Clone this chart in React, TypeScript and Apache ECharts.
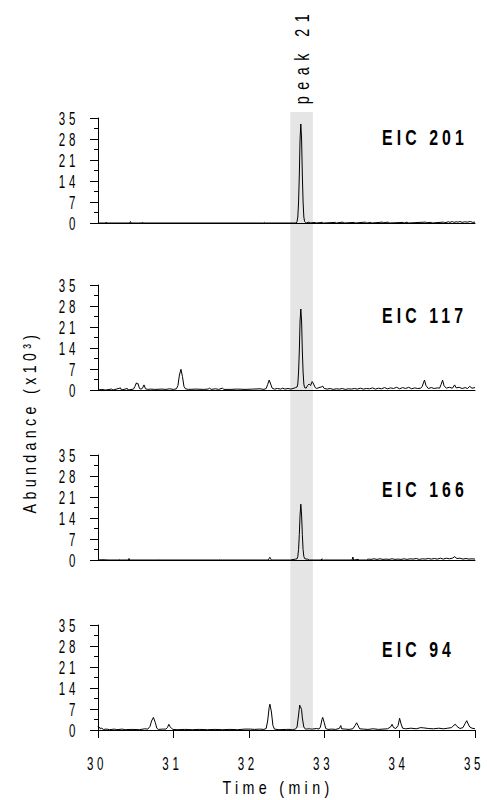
import React, { useEffect, useRef } from "react";
import * as echarts from "echarts";

const timeMin = 30;
const timeMax = 35;
const timeStep = 1;
const abundanceMax = 35;
const abundanceStep = 7;
const xTicks = [30, 31, 32, 33, 34, 35];
const yTicks = [0, 7, 14, 21, 28, 35];
const peakWindow = [32.55, 32.85];
const peakLabel = "peak 21";
const panelLabels = ["EIC 201", "EIC 117", "EIC 166", "EIC 94"];
const yTitle = "Abundance (x10³)";
const xTitle = "Time (min)";

const eic201: [number, number][] = [
  [30.0, 0], [30.1, 0], [30.11, 0.3], [30.12, 0], [30.42, 0], [30.43, 0.5], [30.44, 0],
  [30.58, 0], [30.59, 0.3], [30.6, 0], [32.2, 0], [32.21, 0.2], [32.22, 0], [32.63, 0],
  [32.64, 0.5], [32.65, 2], [32.66, 7], [32.67, 16], [32.68, 28], [32.69, 33], [32.7, 28],
  [32.71, 16], [32.72, 7], [32.73, 2], [32.74, 0.5], [32.75, 0.2], [32.76, 0],
  [32.8, 0.3], [32.81, 0], [32.88, 0.2], [32.89, 0], [32.98, 0.2], [32.99, 0],
  [33.15, 0.2], [33.16, 0], [33.25, 0.3], [33.26, 0], [33.4, 0.2], [33.41, 0],
  [33.55, 0.3], [33.56, 0], [33.62, 0.2], [33.63, 0], [33.78, 0.3], [33.79, 0.1],
  [33.85, 0.3], [33.86, 0], [34.05, 0.2], [34.06, 0], [34.1, 0.3], [34.11, 0],
  [34.35, 0.3], [34.36, 0.1], [34.42, 0.2], [34.43, 0], [34.58, 0.3], [34.6, 0.1],
  [34.65, 0.4], [34.67, 0.2], [34.7, 0.5], [34.72, 0.2], [34.75, 0.4], [34.78, 0.3],
  [34.8, 0.5], [34.83, 0.2], [34.86, 0.4], [34.9, 0.3], [34.94, 0.5], [34.97, 0.2], [35.0, 0.3],
];

const eic117: [number, number][] = [
  [30.0, 0], [30.05, 0.2], [30.1, 0], [30.18, 0.3], [30.2, 0], [30.3, 0.7], [30.31, 0],
  [30.39, 0.5], [30.4, 0], [30.47, 0.3], [30.49, 1.2], [30.51, 2.4], [30.52, 2], [30.53, 2.2],
  [30.55, 0.5], [30.57, 0.3], [30.59, 0.6], [30.61, 1.7], [30.63, 0.4], [30.66, 0.2],
  [30.7, 0.3], [30.75, 0.2], [30.85, 0.3], [30.9, 0.2], [30.95, 0.4], [31.0, 0.2],
  [31.04, 0.4], [31.06, 1.5], [31.08, 5], [31.1, 6.9], [31.12, 4.5], [31.14, 1.2],
  [31.16, 0.4], [31.2, 0.2], [31.3, 0.3], [31.4, 0.2], [31.46, 0.3], [31.48, 0.6],
  [31.5, 0.2], [31.56, 0.4], [31.6, 0.2], [31.65, 0.6], [31.67, 0.2], [31.75, 0.2],
  [31.85, 0.3], [31.95, 0.2], [32.05, 0.3], [32.15, 0.4], [32.2, 0.2], [32.23, 0.5],
  [32.25, 1.8], [32.27, 3.3], [32.29, 2], [32.31, 0.6], [32.34, 0.3], [32.38, 0.5],
  [32.42, 0.3], [32.45, 0.6], [32.48, 0.3], [32.52, 0.5], [32.56, 0.3], [32.6, 0.6],
  [32.62, 0.8], [32.64, 1], [32.65, 2], [32.66, 6], [32.67, 13], [32.68, 23], [32.69, 27],
  [32.7, 23], [32.71, 13], [32.72, 6], [32.73, 2], [32.74, 0.8], [32.76, 0.6], [32.78, 1.5],
  [32.8, 2], [32.82, 1.5], [32.84, 2.8], [32.86, 2], [32.88, 0.8], [32.9, 0.5], [32.93, 0.8],
  [32.96, 1], [32.98, 1.3], [33.0, 0.5], [33.04, 0.3], [33.08, 0.5], [33.12, 0.2],
  [33.16, 0.4], [33.2, 0.3], [33.24, 0.5], [33.28, 0.2], [33.32, 0.4], [33.36, 0.3],
  [33.4, 0.5], [33.44, 0.3], [33.48, 0.6], [33.52, 0.3], [33.56, 0.5], [33.6, 0.4],
  [33.64, 0.7], [33.68, 0.3], [33.72, 0.6], [33.76, 0.4], [33.8, 0.8], [33.84, 0.4],
  [33.88, 0.7], [33.92, 0.5], [33.96, 0.9], [34.0, 0.4], [34.04, 0.8], [34.08, 0.5],
  [34.12, 0.9], [34.16, 0.4], [34.2, 0.7], [34.24, 0.5], [34.28, 0.6], [34.3, 1.2],
  [34.33, 3.3], [34.35, 1.5], [34.38, 0.5], [34.42, 0.8], [34.46, 0.5], [34.5, 0.7],
  [34.53, 0.6], [34.55, 1.8], [34.57, 3.3], [34.59, 1.4], [34.62, 0.6], [34.66, 0.9],
  [34.7, 0.6], [34.73, 1.7], [34.75, 0.7], [34.79, 0.9], [34.83, 0.5], [34.87, 0.8],
  [34.9, 0.5], [34.93, 1.2], [34.96, 0.6], [35.0, 0.8],
];

const eic166: [number, number][] = [
  [30.0, 0], [30.05, 0.1], [30.15, 0], [30.28, 0], [30.29, 0.2], [30.3, 0], [30.4, 0],
  [30.41, 0.5], [30.42, 0], [30.8, 0], [30.81, 0.1], [30.82, 0], [31.6, 0], [31.61, 0.1],
  [31.62, 0], [32.2, 0], [32.26, 0], [32.27, 0.5], [32.28, 0.9], [32.29, 0.4], [32.3, 0],
  [32.55, 0], [32.6, 0.2], [32.62, 0.3], [32.64, 0.4], [32.65, 1.2], [32.66, 3.5],
  [32.67, 8.5], [32.68, 15], [32.69, 18.6], [32.7, 15], [32.71, 8.5], [32.72, 3.5],
  [32.73, 1.2], [32.74, 0.5], [32.76, 0.3], [32.78, 0.3], [32.8, 0], [32.96, 0],
  [32.97, 0.4], [32.98, 0.2], [32.99, 0], [33.37, 0], [33.38, 1], [33.39, 0], [33.45, 0.2],
  [33.47, 0], [33.56, 0], [33.58, 0.3], [33.62, 0.2], [33.66, 0.4], [33.7, 0.2],
  [33.74, 0.4], [33.78, 0.2], [33.82, 0.3], [33.86, 0.2], [33.9, 0.4], [33.94, 0.2],
  [33.98, 0.3], [34.02, 0.2], [34.06, 0.4], [34.1, 0.2], [34.14, 0.4], [34.18, 0.3],
  [34.22, 0.5], [34.26, 0.2], [34.3, 0.4], [34.34, 0.3], [34.38, 0.5], [34.42, 0.3],
  [34.46, 0.5], [34.5, 0.3], [34.54, 0.6], [34.58, 0.3], [34.62, 0.6], [34.66, 0.4],
  [34.7, 0.6], [34.73, 1.1], [34.76, 0.5], [34.8, 0.6], [34.84, 0.3], [34.88, 0.5],
  [34.92, 0.3], [34.96, 0.4], [35.0, 0.3],
];

const eic94: [number, number][] = [
  [30.0, 1.3], [30.01, 0.6], [30.02, 1], [30.03, 0.4], [30.05, 0.6], [30.07, 0.2],
  [30.12, 0.3], [30.15, 0.1], [30.22, 0.3], [30.25, 0.1], [30.32, 0.3], [30.36, 0.1],
  [30.45, 0.2], [30.55, 0.1], [30.62, 0.4], [30.66, 0.3], [30.69, 1.2], [30.71, 3],
  [30.735, 4.2], [30.76, 2.5], [30.78, 0.6], [30.8, 0.2], [30.86, 0.3], [30.9, 0.3],
  [30.92, 0.8], [30.94, 1.9], [30.95, 1.2], [30.97, 0.8], [30.99, 0.2], [31.05, 0.1],
  [31.15, 0.2], [31.25, 0.1], [31.35, 0.2], [31.45, 0.1], [31.55, 0.2], [31.65, 0.1],
  [31.75, 0.2], [31.85, 0.1], [31.95, 0.3], [32.02, 0.3], [32.08, 0.2], [32.14, 0.3],
  [32.2, 0.2], [32.23, 0.5], [32.25, 3], [32.27, 7.5], [32.28, 8.6], [32.3, 6],
  [32.32, 1.5], [32.34, 0.3], [32.4, 0.1], [32.5, 0.2], [32.58, 0.2], [32.62, 0.3],
  [32.64, 1], [32.66, 5], [32.675, 8.3], [32.685, 7.8], [32.7, 6.8], [32.71, 4],
  [32.73, 1], [32.75, 0.3], [32.8, 0.4], [32.84, 0.3], [32.9, 0.5], [32.93, 0.3],
  [32.95, 1], [32.97, 3.5], [32.98, 4.2], [33.0, 2.5], [33.02, 0.5], [33.05, 0.2],
  [33.1, 0.3], [33.15, 0.2], [33.2, 0.5], [33.22, 1.5], [33.23, 0.4], [33.28, 0.3],
  [33.33, 0.2], [33.38, 0.4], [33.41, 1.5], [33.43, 2.4], [33.45, 1.4], [33.47, 0.4],
  [33.52, 0.3], [33.58, 0.2], [33.65, 0.4], [33.72, 0.2], [33.78, 0.3], [33.84, 0.4],
  [33.88, 1], [33.9, 1.9], [33.92, 0.8], [33.95, 0.5], [33.98, 1.5], [34.0, 3.9],
  [34.02, 2], [34.04, 0.6], [34.08, 0.4], [34.15, 0.6], [34.22, 0.4], [34.28, 0.8],
  [34.32, 0.7], [34.38, 0.5], [34.45, 0.4], [34.52, 0.6], [34.58, 0.4], [34.64, 0.6],
  [34.69, 0.8], [34.72, 1.6], [34.74, 1.9], [34.76, 1.2], [34.8, 0.5], [34.84, 0.8],
  [34.87, 2.2], [34.89, 3.1], [34.91, 2], [34.93, 1], [34.96, 0.6], [35.0, 0.4],
];

const panelSeries = [eic201, eic117, eic166, eic94];

const FONT = '"Liberation Sans", Arial, sans-serif';
const panelTops = [118, 285, 455, 625];
const panelHeight = 105;
const labelYs = [138, 316, 490, 650];
const LEFT = 98;
const RIGHT = 12;
// letter spacing (px, before horizontal scaling) keyed by font size
const SPACING: Record<number, number> = { 18: 5.8, 19: 5.8, 20: 9, 22: 5.7 };

export default function App() {
  const ref = useRef<HTMLDivElement>(null);
  useEffect(() => {
    if (!ref.current) return;
    const root = ref.current;
    const chart = echarts.init(root, null, { renderer: "svg" });
    const grids: any[] = [
      { left: LEFT, right: RIGHT, top: 112, height: 616 },
      ...panelTops.map((t) => ({ left: LEFT, right: RIGHT, top: t, height: panelHeight })),
    ];
    const xAxes: any[] = [
      { gridIndex: 0, type: "value", min: timeMin, max: timeMax, show: false },
      ...panelTops.map((_, i) => ({
        gridIndex: i + 1,
        type: "value",
        min: timeMin,
        max: timeMax,
        interval: timeStep,
        z: 5,
        axisLine: { show: true, onZero: false, lineStyle: { color: "#000", width: 1 } },
        axisTick: { show: i === 3, length: 8, lineStyle: { color: "#000", width: 1 } },
        axisLabel: { show: false },
        splitLine: { show: false },
      })),
    ];
    const yAxes: any[] = [
      { gridIndex: 0, type: "value", min: 0, max: 1, show: false },
      ...panelTops.map((_, i) => ({
        gridIndex: i + 1,
        type: "value",
        min: 0,
        max: abundanceMax,
        interval: abundanceStep,
        z: 5,
        axisLine: { show: true, lineStyle: { color: "#000", width: 1 } },
        axisTick: { show: true, length: 8, lineStyle: { color: "#000", width: 1 } },
        minorTick: { show: true, splitNumber: 2, length: 4, lineStyle: { color: "#000", width: 1 } },
        axisLabel: { show: false },
        splitLine: { show: false },
        minorSplitLine: { show: false },
      })),
    ];
    const series: any[] = [
      {
        type: "line",
        xAxisIndex: 0,
        yAxisIndex: 0,
        data: [[timeMin, 0]],
        symbol: "none",
        lineStyle: { opacity: 0 },
        silent: true,
        z: 0,
        markArea: {
          silent: true,
          itemStyle: { color: "#e5e5e5" },
          data: [[{ xAxis: peakWindow[0] }, { xAxis: peakWindow[1] }]],
        },
      },
      ...panelSeries.map((d, i) => ({
        type: "line",
        name: panelLabels[i],
        xAxisIndex: i + 1,
        yAxisIndex: i + 1,
        data: d,
        symbol: "none",
        showSymbol: false,
        silent: true,
        z: 6,
        lineStyle: { color: "#000", width: 1 },
      })),
    ];
    chart.setOption({
      animation: false,
      backgroundColor: "#fff",
      grid: grids,
      xAxis: xAxes,
      yAxis: yAxes,
      series,
    });

    const textStyle = (text: string, size: number, weight: string, align: string) => ({
      text,
      fontSize: size,
      fontWeight: weight,
      fontFamily: FONT,
      fill: "#000",
      align,
      verticalAlign: "middle",
      textAlign: align,
      textVerticalAlign: "middle",
    });

    const tickTexts: any[] = [];
    panelTops.forEach((_, i) => {
      yTicks.forEach((v) => {
        const p = chart.convertToPixel({ gridIndex: i + 1 }, [timeMin, v]) as number[];
        tickTexts.push({
          type: "text",
          x: p[0] - 19,
          y: p[1] + 0.5,
          scaleX: 0.64,
          z: 100,
          silent: true,
          style: textStyle(String(v), 18, "normal", "right"),
        });
      });
    });
    xTicks.forEach((v) => {
      const p = chart.convertToPixel({ gridIndex: 4 }, [v, 0]) as number[];
      tickTexts.push({
        type: "text",
        x: p[0] - 1,
        y: p[1] + 33,
        scaleX: 0.64,
        z: 100,
        silent: true,
        style: textStyle(String(v), 18, "normal", "center"),
      });
    });

    const graphic: any[] = [
      {
        type: "text",
        x: 302,
        y: 56,
        rotation: Math.PI / 2,
        scaleX: 0.72,
        z: 100,
        silent: true,
        style: textStyle(peakLabel, 20, "normal", "center"),
      },
      {
        type: "text",
        x: 30,
        y: 422,
        rotation: Math.PI / 2,
        scaleX: 0.75,
        z: 100,
        silent: true,
        style: textStyle(yTitle, 19, "normal", "center"),
      },
      {
        type: "text",
        x: 278,
        y: 788,
        scaleX: 0.75,
        z: 100,
        silent: true,
        style: textStyle(xTitle, 19, "normal", "center"),
      },
      ...panelLabels.map((lab, i) => ({
        type: "text",
        x: 382,
        y: labelYs[i],
        scaleX: 0.72,
        z: 100,
        silent: true,
        style: textStyle(lab, 22, "bold", "left"),
      })),
      ...tickTexts,
    ];
    chart.setOption({ graphic });

    const applySpacing = () => {
      root.querySelectorAll("text").forEach((t) => {
        const fs = Math.round(parseFloat(getComputedStyle(t).fontSize));
        const ls = SPACING[fs];
        if (ls !== undefined) (t as SVGTextElement).style.letterSpacing = ls + "px";
      });
    };
    applySpacing();
    chart.on("finished", applySpacing);
    const timers = [setTimeout(applySpacing, 30), setTimeout(applySpacing, 200)];
    return () => {
      timers.forEach((t) => clearTimeout(t));
      chart.dispose();
    };
  }, []);
  return (
    <div
      ref={ref}
      style={{ position: "absolute", left: 0, top: 0, width: 487, height: 800 }}
    />
  );
}
